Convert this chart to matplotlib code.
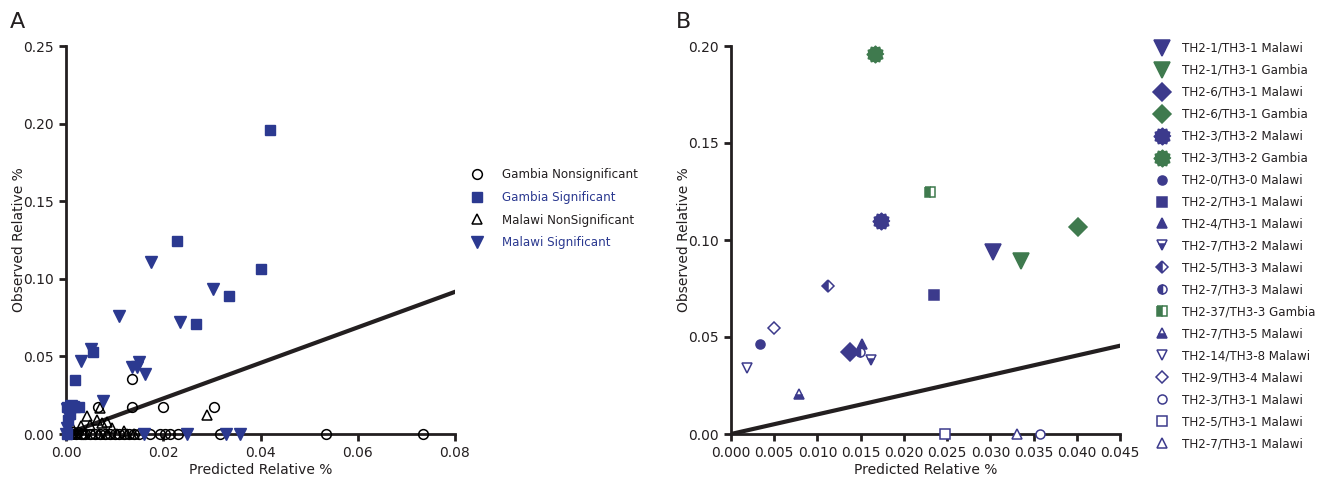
import numpy as np
import matplotlib
matplotlib.use("Agg")
import matplotlib.pyplot as plt
from matplotlib.lines import Line2D

plt.rcParams['font.family'] = ['DejaVu Sans']

# ---------------- Panel A data ----------------
gam_ns_x = [0.0135, 0.0135, 0.0200, 0.0305, 0.0065, 0.0535, 0.0735, 0.0317, 0.0231,
            0.0214, 0.0204, 0.0193, 0.0173, 0.0150, 0.0140, 0.0130, 0.0120, 0.0110,
            0.0100, 0.0090, 0.0080, 0.0070, 0.0060, 0.0050, 0.0040, 0.0030, 0.0020,
            0.0010, 0.0004, 0.0015, 0.0025, 0.0035]
gam_ns_y = [0.0353, 0.0176, 0.0176, 0.0176, 0.0176, 0.0, 0.0, 0.0, 0.0,
            0.0, 0.0, 0.0, 0.0, 0.0, 0.0, 0.0, 0.0, 0.0,
            0.0, 0.0, 0.0, 0.0, 0.0, 0.0, 0.0, 0.0, 0.0,
            0.0, 0.0, 0.001, 0.001, 0.0]

gam_sig_x = [0.0420, 0.0228, 0.0401, 0.0335, 0.0267, 0.0056, 0.0019,
             0.0003, 0.0010, 0.0018, 0.0027, 0.0005, 0.0008, 0.0002]
gam_sig_y = [0.1960, 0.1245, 0.1065, 0.0890, 0.0710, 0.0530, 0.0350,
             0.0175, 0.0175, 0.0175, 0.0175, 0.0090, 0.0130, 0.0000]

mal_ns_x = [0.0289, 0.0070, 0.0043, 0.0063, 0.0084, 0.0015, 0.0030, 0.0050,
            0.0075, 0.0095, 0.0120, 0.0005, 0.0012, 0.0022, 0.0038, 0.0055,
            0.0068, 0.0085, 0.0105, 0.0125, 0.0140]
mal_ns_y = [0.0123, 0.0170, 0.0116, 0.0090, 0.0080, 0.0030, 0.0050, 0.0060,
            0.0070, 0.0040, 0.0020, 0.0, 0.0, 0.0, 0.0, 0.0,
            0.0, 0.0, 0.0, 0.0, 0.0]

mal_sig_x = [0.0175, 0.0109, 0.0302, 0.0234, 0.0051, 0.0031, 0.0135, 0.0151,
             0.0162, 0.0147, 0.0077, 0.0161, 0.0248, 0.0330, 0.0358,
             0.0002, 0.0004, 0.0006, 0.0003, 0.0010, 0.0015, 0.0001]
mal_sig_y = [0.1110, 0.0760, 0.0935, 0.0723, 0.0548, 0.0470, 0.0434, 0.0466,
             0.0385, 0.0430, 0.0215, 0.0, 0.0, 0.0, 0.0,
             0.0160, 0.0120, 0.0080, 0.0040, 0.0180, 0.0175, 0.0]

line_a_x = [0.0, 0.08]
line_a_y = [0.0, 0.0916]

# ---------------- Panel B data ----------------
b_labels = ["TH2-1/TH3-1 Malawi", "TH2-1/TH3-1 Gambia", "TH2-6/TH3-1 Malawi",
            "TH2-6/TH3-1 Gambia", "TH2-3/TH3-2 Malawi", "TH2-3/TH3-2 Gambia",
            "TH2-0/TH3-0 Malawi", "TH2-2/TH3-1 Malawi", "TH2-4/TH3-1 Malawi",
            "TH2-7/TH3-2 Malawi", "TH2-5/TH3-3 Malawi", "TH2-7/TH3-3 Malawi",
            "TH2-37/TH3-3 Gambia", "TH2-7/TH3-5 Malawi", "TH2-14/TH3-8 Malawi",
            "TH2-9/TH3-4 Malawi", "TH2-3/TH3-1 Malawi", "TH2-5/TH3-1 Malawi",
            "TH2-7/TH3-1 Malawi"]
b_x = [0.0303, 0.0335, 0.0138, 0.0401, 0.0174, 0.0167, 0.0033, 0.0235, 0.0152,
       0.0162, 0.0112, 0.0149, 0.0230, 0.0079, 0.0019, 0.0050, 0.0358, 0.0248,
       0.0331]
b_y = [0.0938, 0.0892, 0.0421, 0.1067, 0.1100, 0.1957, 0.0464, 0.0718, 0.0462,
       0.0381, 0.0761, 0.0421, 0.1246, 0.0206, 0.0339, 0.0548, 0.0, 0.0, 0.0]

line_b_x = [0.0, 0.045]
line_b_y = [0.0, 0.0455]

# ---------------- styles ----------------
BLUE = "#2b3990"
PURPLE = "#3c3a8c"
GREEN = "#3f7a4e"
INK = "#231f20"

ang = np.linspace(0, 2 * np.pi, 25)[:-1]
rad = np.where(np.arange(24) % 2 == 0, 1.0, 0.82)
flower = list(zip(rad * np.cos(ang), rad * np.sin(ang)))

# marker, colour, size, fillstyle
b_style = [
    ("v", PURPLE, 11, "full"), ("v", GREEN, 11, "full"),
    ("D", PURPLE, 9, "full"), ("D", GREEN, 9, "full"),
    (flower, PURPLE, 12, "full"), (flower, GREEN, 12, "full"),
    ("o", PURPLE, 6.5, "full"), ("s", PURPLE, 6.5, "full"), ("^", PURPLE, 7, "full"),
    ("v", PURPLE, 7, "bottom"), ("D", PURPLE, 6, "left"), ("o", PURPLE, 6.5, "left"),
    ("s", GREEN, 6.5, "left"), ("^", PURPLE, 7, "bottom"), ("v", PURPLE, 7, "none"),
    ("D", PURPLE, 6, "none"), ("o", PURPLE, 6.5, "none"), ("s", PURPLE, 6.5, "none"),
    ("^", PURPLE, 7, "none"),
]


def style_axes(ax):
    for s in ["top", "right"]:
        ax.spines[s].set_visible(False)
    for s in ["left", "bottom"]:
        ax.spines[s].set_linewidth(2)
        ax.spines[s].set_color(INK)
    ax.tick_params(direction="out", width=2, length=5, labelsize=10, color=INK,
                   labelcolor=INK)


fig = plt.figure(figsize=(13.23, 4.79), dpi=100)

# ---------------- Panel A ----------------
axA = fig.add_axes([66 / 1323, 1 - 434 / 479, 389 / 1323, 388 / 479])
style_axes(axA)
axA.plot(line_a_x, line_a_y, color=INK, lw=3, zorder=1)
axA.plot(gam_ns_x, gam_ns_y, ls="none", marker="o", ms=7, mfc="none", mec="black",
         mew=1.1, clip_on=False, zorder=3)
axA.plot(mal_ns_x, mal_ns_y, ls="none", marker="^", ms=7, mfc="none", mec="black",
         mew=1.1, clip_on=False, zorder=3)
axA.plot(gam_sig_x, gam_sig_y, ls="none", marker="s", ms=7.5, color=BLUE,
         clip_on=False, zorder=4)
axA.plot(mal_sig_x, mal_sig_y, ls="none", marker="v", ms=8, color=BLUE,
         clip_on=False, zorder=4)
axA.set_xlim(0, 0.08)
axA.set_ylim(0, 0.25)
axA.set_xticks([0.0, 0.02, 0.04, 0.06, 0.08])
axA.set_xticklabels(["0.00", "0.02", "0.04", "0.06", "0.08"])
axA.set_yticks([0.0, 0.05, 0.10, 0.15, 0.20, 0.25])
axA.set_yticklabels(["0.00", "0.05", "0.10", "0.15", "0.20", "0.25"])
axA.set_xlabel("Predicted Relative %", fontsize=10, labelpad=2, color=INK)
axA.set_ylabel("Observed Relative %", fontsize=10, labelpad=-2, color=INK)

legA_handles = [
    Line2D([], [], ls="none", marker="o", ms=7, mfc="none", mec="black", mew=1.1),
    Line2D([], [], ls="none", marker="s", ms=7.5, color=BLUE),
    Line2D([], [], ls="none", marker="^", ms=7, mfc="none", mec="black", mew=1.1),
    Line2D([], [], ls="none", marker="v", ms=8, color=BLUE),
]
legA_labels = ["Gambia Nonsignificant", "Gambia Significant",
               "Malawi NonSignificant", "Malawi Significant"]
legA = fig.legend(legA_handles, legA_labels, loc="upper left",
                  bbox_to_anchor=(465 / 1323, 1 - 162 / 479), frameon=False,
                  fontsize=8.6, handlelength=1.0, handletextpad=1.6,
                  labelspacing=0.82, borderpad=0)
for t, c in zip(legA.get_texts(), [INK, BLUE, INK, BLUE]):
    t.set_color(c)

fig.text(10 / 1323, 1 - 22 / 479, "A", fontsize=16, va="center", ha="left", color=INK)

# ---------------- Panel B ----------------
axB = fig.add_axes([731 / 1323, 1 - 434 / 479, 389 / 1323, 388 / 479])
style_axes(axB)
axB.plot(line_b_x, line_b_y, color=INK, lw=3, zorder=1)
handlesB = []
for x, y, (m, c, s, fs) in zip(b_x, b_y, b_style):
    kw = dict(ls="none", marker=m, ms=s, mec=c, mew=1.1)
    if fs == "none":
        kw.update(mfc="white")
    elif fs == "full":
        kw.update(mfc=c)
    else:
        kw.update(mfc=c, fillstyle=fs, markerfacecoloralt="white")
    axB.plot([x], [y], clip_on=False, zorder=3, **kw)
    handlesB.append(Line2D([], [], **kw))
axB.set_xlim(0, 0.045)
axB.set_ylim(0, 0.20)
xt = [0.0, 0.005, 0.010, 0.015, 0.020, 0.025, 0.030, 0.035, 0.040, 0.045]
axB.set_xticks(xt)
axB.set_xticklabels(["%.3f" % v for v in xt])
axB.set_yticks([0.0, 0.05, 0.10, 0.15, 0.20])
axB.set_yticklabels(["0.00", "0.05", "0.10", "0.15", "0.20"])
axB.set_xlabel("Predicted Relative %", fontsize=10, labelpad=2, color=INK)
axB.set_ylabel("Observed Relative %", fontsize=10, labelpad=-2, color=INK)

fig.legend(handlesB, b_labels, loc="upper left",
           bbox_to_anchor=(1150 / 1323, 1 - 36 / 479), frameon=False,
           fontsize=8.6, handlelength=1.0, handletextpad=1.2,
           labelspacing=0.75, borderpad=0, labelcolor=INK)

fig.text(676 / 1323, 1 - 22 / 479, "B", fontsize=16, va="center", ha="left", color=INK)

fig.savefig("out.png", dpi=100)
